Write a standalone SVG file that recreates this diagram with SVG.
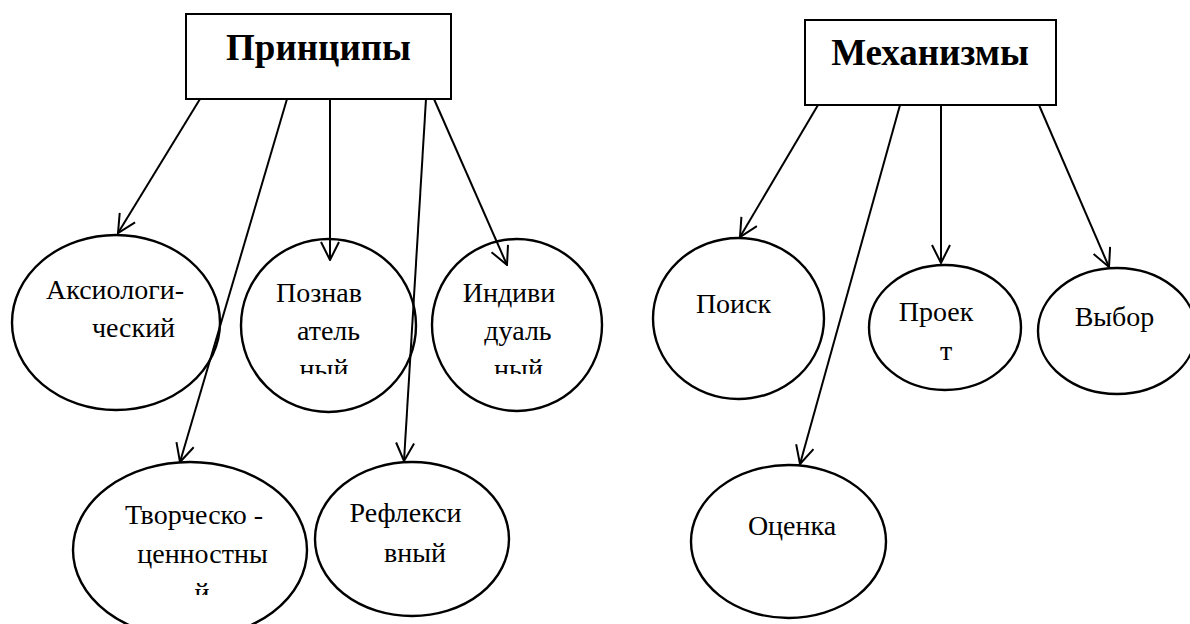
<svg xmlns="http://www.w3.org/2000/svg" width="1190" height="624" viewBox="0 0 1190 624">
  <style>
    .box { fill: #fff; stroke: #000; stroke-width: 2; }
    .node { fill: none; stroke: #000; stroke-width: 2.4; }
    .title { font-family: "Liberation Serif", "Times New Roman", serif; font-weight: bold; font-size: 37px; text-anchor: middle; fill: #000; }
    .lbl { font-family: "Liberation Serif", "Times New Roman", serif; font-size: 28px; text-anchor: middle; fill: #000; }
    .edge { fill: none; stroke: #000; stroke-width: 2; marker-end: url(#arr); }
  </style>
  <defs>
    <marker id="arr" markerUnits="userSpaceOnUse" viewBox="0 0 20 20" markerWidth="20" markerHeight="20" refX="19" refY="10" orient="auto">
      <path d="M1,1 L19,10 L1,19" fill="none" stroke="#000" stroke-width="2"/>
    </marker>
    <clipPath id="clipPoz"><rect x="240" y="0" width="180" height="374"/></clipPath>
    <clipPath id="clipInd"><rect x="430" y="0" width="180" height="374"/></clipPath>
    <clipPath id="clipTvor"><rect x="70" y="0" width="240" height="595"/></clipPath>
  </defs>

  <rect width="1190" height="624" fill="#fff"/>

  <g id="principles">
    <rect class="box" x="186" y="14" width="265" height="85"/>
    <text class="title" x="318.5" y="60">Принципы</text>
  </g>

  <g id="mechanisms">
    <rect class="box" x="805" y="20" width="251" height="85"/>
    <text class="title" x="930" y="65">Механизмы</text>
  </g>

  <g id="axiological">
    <ellipse class="node" cx="116" cy="322.5" rx="104" ry="87.5"/>
    <text class="lbl" x="115" y="299">Аксиологи-</text>
    <text class="lbl" x="133.5" y="337">ческий</text>
  </g>

  <g id="cognitive">
    <ellipse class="node" cx="328.5" cy="325.5" rx="87.5" ry="86.5"/>
    <text class="lbl" x="319" y="302">Познав</text>
    <text class="lbl" x="328.5" y="340">атель</text>
    <text class="lbl" x="324" y="378" clip-path="url(#clipPoz)">ный</text>
  </g>

  <g id="individual">
    <ellipse class="node" cx="517" cy="325" rx="85" ry="86"/>
    <text class="lbl" x="509" y="302">Индиви</text>
    <text class="lbl" x="518" y="340">дуаль</text>
    <text class="lbl" x="518.5" y="378" clip-path="url(#clipInd)">ный</text>
  </g>

  <g id="creative">
    <ellipse class="node" cx="190" cy="550" rx="117" ry="88"/>
    <text class="lbl" x="194" y="524">Творческо -</text>
    <text class="lbl" x="202.5" y="563">ценностны</text>
    <text class="lbl" x="202" y="602" clip-path="url(#clipTvor)">й</text>
  </g>

  <g id="reflexive">
    <ellipse class="node" cx="412" cy="539" rx="97" ry="77"/>
    <text class="lbl" x="405.5" y="522">Рефлекси</text>
    <text class="lbl" x="415" y="562">вный</text>
  </g>

  <g id="search">
    <ellipse class="node" cx="738.5" cy="318.5" rx="85.5" ry="80.5"/>
    <text class="lbl" x="733.5" y="313">Поиск</text>
  </g>

  <g id="project">
    <ellipse class="node" cx="945" cy="327.5" rx="76" ry="62.5"/>
    <text class="lbl" x="936" y="321">Проек</text>
    <text class="lbl" x="946" y="360">т</text>
  </g>

  <g id="choice">
    <ellipse class="node" cx="1117" cy="331" rx="79" ry="63"/>
    <text class="lbl" x="1114.5" y="326">Выбор</text>
  </g>

  <g id="evaluation">
    <ellipse class="node" cx="788.5" cy="541.5" rx="97.5" ry="76.5"/>
    <text class="lbl" x="792" y="535">Оценка</text>
  </g>

  <g id="connectors">
    <line class="edge" x1="200" y1="99" x2="118" y2="233"/>
    <line class="edge" x1="287" y1="99" x2="180" y2="462"/>
    <line class="edge" x1="330" y1="99" x2="330" y2="260"/>
    <line class="edge" x1="426" y1="99" x2="404" y2="461"/>
    <line class="edge" x1="434" y1="99" x2="507" y2="265"/>
    <line class="edge" x1="818" y1="105" x2="740" y2="237"/>
    <line class="edge" x1="900" y1="105" x2="800" y2="464"/>
    <line class="edge" x1="941" y1="105" x2="941" y2="263"/>
    <line class="edge" x1="1039" y1="105" x2="1109" y2="267"/>
  </g>
</svg>
